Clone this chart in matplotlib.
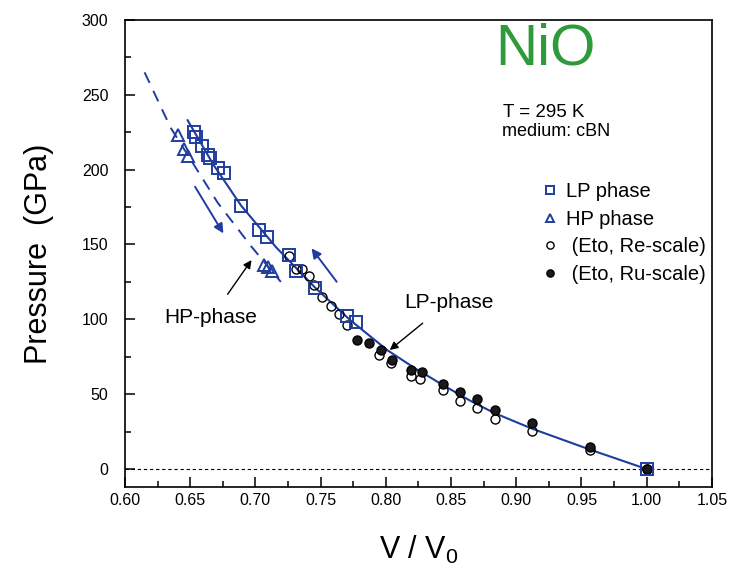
import matplotlib
matplotlib.use("Agg")
import matplotlib.pyplot as plt
from matplotlib.ticker import MultipleLocator

plt.rcParams['font.family'] = ['Liberation Sans', 'DejaVu Sans']
plt.rcParams['mathtext.default'] = 'regular'

BLUE = '#1f3d9e'

# LP phase (squares)
lp_v = [0.653, 0.6545, 0.659, 0.6635, 0.6655, 0.671, 0.676, 0.689, 0.703, 0.709,
        0.7255, 0.731, 0.746, 0.770, 0.777, 1.000]
lp_p = [225, 222, 216, 210, 208, 201, 198, 176, 160, 155,
        143, 132, 121, 102, 98, 0]

# HP phase (triangles)
hp_v = [0.6405, 0.6456, 0.648, 0.7063, 0.7093, 0.713]
hp_p = [223, 214, 209, 136, 135, 132]

# Eto, Re-scale (open circles)
re_v = [0.7254, 0.731, 0.7356, 0.741, 0.745, 0.751, 0.758, 0.764, 0.770,
        0.795, 0.804, 0.819, 0.826, 0.844, 0.857, 0.870, 0.884, 0.912, 0.9565, 1.000]
re_p = [142, 133.5, 133.5, 129, 123, 115, 109, 103.5, 96.5,
        76, 71, 62, 60, 53, 45.5, 40.5, 33.5, 25.5, 13, 0]

# Eto, Ru-scale (filled circles)
ru_v = [0.778, 0.787, 0.796, 0.805, 0.819, 0.828, 0.844, 0.857, 0.870, 0.884,
        0.912, 0.9565, 1.000]
ru_p = [86.5, 84.5, 79.5, 73, 66, 65, 56.5, 51.5, 46.5, 39.5, 31, 15, 0]

# fitted curves
lp_fit_v = [0.648, 0.668, 0.689, 0.716, 0.746, 0.772, 0.801, 0.822, 0.844,
            0.865, 0.883, 0.912, 0.9565, 1.000]
lp_fit_p = [233, 203, 176, 148, 121, 100, 79.5, 67.5, 56, 45.5, 37.5, 27, 13, 0]

hp_fit_v = [0.615, 0.635, 0.653, 0.671, 0.697, 0.7195]
hp_fit_p = [265, 228, 203, 178, 148.5, 125]

fig = plt.figure(figsize=(7.29, 5.70), dpi=100)
ax = fig.add_axes([0.1715, 0.1456, 0.805, 0.8194])

ax.axhline(0, color='black', lw=0.8, ls=(0, (3, 2.5)), zorder=1)

ax.plot(lp_fit_v, lp_fit_p, color=BLUE, lw=1.5, zorder=2)
ax.plot(hp_fit_v, hp_fit_p, color=BLUE, lw=1.4, ls=(0, (6, 4.5)), zorder=2)

ax.plot(re_v, re_p, 'o', ms=6.5, mfc='none', mec='black', mew=1.0, zorder=3,
        label=' (Eto, Re-scale)')
ax.plot(ru_v, ru_p, 'o', ms=6.5, mfc='#1a1a1a', mec='black', mew=1.0, zorder=3,
        label=' (Eto, Ru-scale)')
ax.plot(lp_v, lp_p, 's', ms=8, mfc='none', mec=BLUE, mew=1.4, zorder=4,
        label='LP phase')
ax.plot(hp_v, hp_p, '^', ms=8, mfc='none', mec=BLUE, mew=1.4, zorder=4,
        label='HP phase')

# blue direction arrows
ax.annotate('', xy=(0.6754, 157.4), xytext=(0.6537, 188.6),
            arrowprops=dict(arrowstyle='-|>', color=BLUE, lw=1.4,
                            mutation_scale=14, shrinkA=0, shrinkB=0))
ax.annotate('', xy=(0.743, 147.4), xytext=(0.7623, 125.1),
            arrowprops=dict(arrowstyle='-|>', color=BLUE, lw=1.4,
                            mutation_scale=14, shrinkA=0, shrinkB=0))

# phase labels
ax.annotate('HP-phase', xy=(0.697, 139.6), xytext=(0.666, 101),
            ha='center', va='center', fontsize=15,
            arrowprops=dict(arrowstyle='-|>', color='black', lw=1.0,
                            mutation_scale=12, shrinkA=10, shrinkB=0))
ax.annotate('LP-phase', xy=(0.803, 79.5), xytext=(0.848, 111.5),
            ha='center', va='center', fontsize=15,
            arrowprops=dict(arrowstyle='-|>', color='black', lw=1.0,
                            mutation_scale=12, shrinkA=10, shrinkB=0))

ax.text(0.922, 280, 'NiO', color='#2f9a3c', fontsize=42, ha='center', va='center')
ax.text(0.8898, 238.5, 'T = 295 K', fontsize=13.5, ha='left', va='center')
ax.text(0.889, 225.8, 'medium: cBN', fontsize=13, ha='left', va='center')

handles, labels = ax.get_legend_handles_labels()
order = [2, 3, 0, 1]
ax.legend([handles[i] for i in order], [labels[i] for i in order],
          loc='upper left', bbox_to_anchor=(0.693, 0.674), frameon=False,
          fontsize=14.5, handlelength=0.8, handletextpad=0.4, borderpad=0,
          labelspacing=0.42, markerscale=0.8)

ax.set_xlim(0.60, 1.05)
ax.set_ylim(-12, 300)
ax.xaxis.set_major_locator(MultipleLocator(0.05))
ax.xaxis.set_minor_locator(MultipleLocator(0.025))
ax.yaxis.set_major_locator(MultipleLocator(50))
ax.yaxis.set_minor_locator(MultipleLocator(25))
ax.xaxis.set_major_formatter(plt.FormatStrFormatter('%.2f'))
ax.tick_params(which='both', direction='in', top=False, right=False,
               labelsize=11.5, width=1.1)
ax.tick_params(which='major', length=7)
ax.tick_params(which='minor', length=4)
ax.tick_params(axis='x', pad=4)
ax.tick_params(axis='y', pad=12)
for s in ax.spines.values():
    s.set_linewidth(1.2)

ax.set_xlabel('V / V$_0$', fontsize=22, labelpad=19)
ax.set_ylabel('Pressure  (GPa)', fontsize=22, labelpad=20)

fig.savefig('out.png', dpi=100)
